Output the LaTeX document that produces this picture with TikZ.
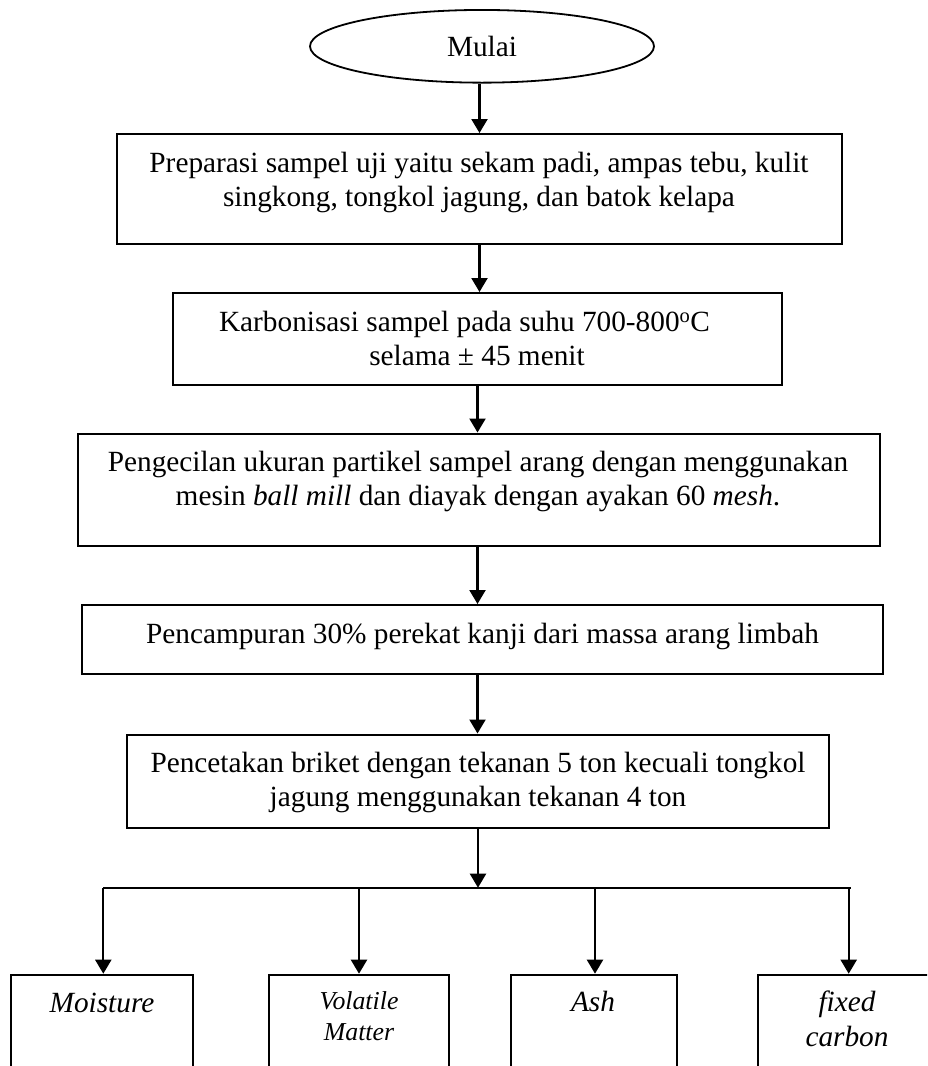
\documentclass[tikz,border=0pt]{standalone}
\usepackage{fontspec}
\setmainfont{Liberation Serif}
\usetikzlibrary{arrows.meta,shapes.geometric}
\begin{document}
\begin{tikzpicture}[x=1pt,y=-1pt,
  boxwh/.style 2 args={draw, line width=2pt, inner sep=0pt, minimum width=#1, minimum height=#2},
  txt/.style={inner sep=0pt, anchor=base, font=\fontsize{29.3}{34}\selectfont},
  ittxt/.style={inner sep=0pt, anchor=base, font=\fontsize{29.3}{34.3}\selectfont\itshape},
  smalltxt/.style={inner sep=0pt, anchor=base, font=\fontsize{25.8}{31}\selectfont\itshape},
  arr/.style={line width=2.2pt, -{Triangle[width=16pt,length=14pt]}},
  bus/.style={line width=1.8pt}]
\useasboundingbox (0,0) rectangle (927,1066);
\fill[white] (0,0) rectangle (927,1066);
\clip (0,0) rectangle (927,1066);

% start
\node[ellipse, draw, line width=1.8pt, inner sep=0pt, minimum width=344pt, minimum height=72.7pt,
      font=\fontsize{29.3}{34}\selectfont] (ell) at (482,46.3) {Mulai};

% process boxes
\node[boxwh={725pt}{110pt}] (b1) at (479.5,189) {};
\node[boxwh={609pt}{91.5pt}] (b2) at (477.5,338.75) {};
\node[boxwh={802pt}{112.5pt}] (b3) at (479,489.75) {};
\node[boxwh={801pt}{69pt}] (b4) at (482.5,639.5) {};
\node[boxwh={702.7pt}{93.8pt}] (b5) at (478,781.4) {};

% texts
\node[txt] (t1) at (479,172.7) {\begin{tabular}[t]{@{}c@{}}Preparasi sampel uji yaitu sekam padi, ampas tebu, kulit\\singkong, tongkol jagung, dan batok kelapa\end{tabular}};
\node[txt] (t2) at (477,331.7) {\begin{tabular}[t]{@{}c@{}}Karbonisasi sampel pada suhu 700-800\textsuperscript{o}C\hspace*{25pt}\\selama ± 45 menit\end{tabular}};
\node[txt] (t3) at (478,471.7) {\begin{tabular}[t]{@{}c@{}}Pengecilan ukuran partikel sampel arang dengan menggunakan\\mesin \textit{ball mill} dan diayak dengan ayakan 60 \textit{mesh}.\end{tabular}};
\node[txt] (t4) at (482.5,643.5) {Pencampuran 30\% perekat kanji dari massa arang limbah};
\node[txt] (t5) at (478,772) {\begin{tabular}[t]{@{}c@{}}Pencetakan briket dengan tekanan 5 ton kecuali tongkol\\jagung menggunakan tekanan 4 ton\end{tabular}};

% vertical flow arrows
\draw[arr] (b1.north |- ell.south) -- (b1.north);
\draw[arr] (b1.south) -- (b1.south |- b2.north);
\draw[arr] (b2.south) -- (b2.south |- b3.north);
\draw[arr] (b3.south -| b2.south) -- (b2.south |- b4.north);
\draw[arr] (b2.south |- b4.south) -- (b2.south |- b5.north);

% distribution bus
\coordinate (jc) at (478,887.7);
\coordinate (jA) at (103.3,887.7);
\coordinate (jB) at (359,887.7);
\coordinate (jC) at (595,887.7);
\coordinate (jD) at (848.7,887.7);
\coordinate (jE) at (851,887.7);
\draw[arr] (b5.south) -- (jc);
\draw[bus] (jA) -- (jE);

% result boxes
\node[boxwh={182.3pt}{130pt}, anchor=north] (rA) at (102.2,973.7) {};
\node[boxwh={179.7pt}{130pt}, anchor=north] (rB) at (359.2,973.7) {};
\node[boxwh={166pt}{130pt}, anchor=north] (rC) at (594,973.7) {};
\node[boxwh={181pt}{130pt}, anchor=north] (rD) at (848.5,973.7) {};

\draw[arr] (jA) -- (jA |- rA.north);
\draw[arr] (jB) -- (jB |- rB.north);
\draw[arr] (jC) -- (jC |- rC.north);
\draw[arr] (jD) -- (jD |- rD.north);

\node[ittxt] (tA) at (102,1012.7) {Moisture};
\node[smalltxt] (tB) at (359,1009) {\begin{tabular}[t]{@{}c@{}}Volatile\\Matter\end{tabular}};
\node[ittxt] (tC) at (593,1011.7) {Ash};
\node[ittxt] (tD) at (847,1011.7) {\begin{tabular}[t]{@{}c@{}}fixed\\carbon\end{tabular}};
\end{tikzpicture}
\end{document}
